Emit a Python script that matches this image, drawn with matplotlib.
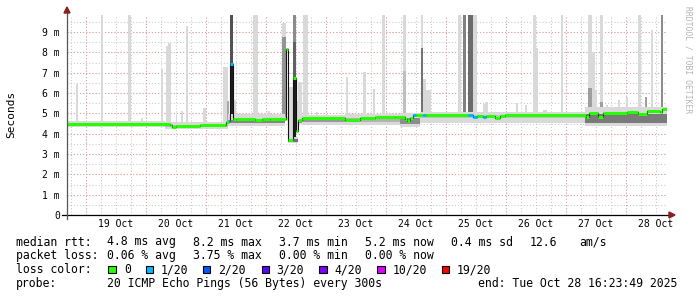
import numpy as np
import matplotlib
matplotlib.use('Agg')
import matplotlib.pyplot as plt
from matplotlib.patches import Rectangle, Polygon

# ---------------- data ----------------
# time axis: days since 19 Oct 2025 00:00, values in milliseconds
t_start = -0.3168          # Sat Oct 18 16:23:49
t_end = 9.6832             # Tue Oct 28 16:23:49
day_label_pos = [0.5, 1.5, 2.5, 3.5, 4.5, 5.5, 6.5, 7.5, 8.5, 9.5]
day_labels = ['19 Oct', '20 Oct', '21 Oct', '22 Oct', '23 Oct',
              '24 Oct', '25 Oct', '26 Oct', '27 Oct', '28 Oct']
y_ticks = [0, 1, 2, 3, 4, 5, 6, 7, 8, 9]
y_tick_labels = ['0', '1 m', '2 m', '3 m', '4 m', '5 m', '6 m', '7 m', '8 m', '9 m']

# median rtt (step start times, value in ms, lost pings of 20)
median_t = [-0.3168, 1.400, 1.433, 1.500, 1.900, 2.333, 2.375, 2.408, 2.442, 2.500,
            2.817, 2.933, 3.067, 3.325, 3.367, 3.442, 3.500, 3.533, 3.600, 4.317,
            4.567, 4.817, 5.150, 5.317, 5.350, 5.400, 5.450, 5.500, 5.617, 5.667,
            6.367, 6.450, 6.517, 6.617, 6.667, 6.817, 6.900, 6.983, 8.333, 8.383,
            8.533, 8.617, 9.017, 9.200, 9.350, 9.567, 9.600]
median_ms = [4.47, 4.42, 4.35, 4.40, 4.45, 4.56, 4.62, 7.42, 4.70, 4.72,
             4.69, 4.74, 4.72, 8.18, 3.70, 6.72, 4.12, 4.65, 4.76, 4.67,
             4.76, 4.80, 4.84, 4.72, 4.62, 4.75, 4.92, 4.90, 4.92, 4.92,
             4.92, 4.84, 4.88, 4.80, 4.88, 4.78, 4.85, 4.94, 4.80, 5.00,
             4.82, 5.02, 5.06, 4.97, 5.12, 5.05, 5.20]
median_loss = [0, 0, 0, 0, 0, 0, 1, 1, 0, 0,
               0, 0, 0, 0, 0, 0, 0, 0, 0, 0,
               0, 0, 0, 0, 0, 0, 1, 0, 1, 0,
               1, 1, 0, 1, 0, 0, 0, 0, 0, 0,
               0, 0, 0, 0, 0, 0, 0]

# smoke band around the median (step starts)
band_t = [-0.3168, 1.317, 2.367, 3.317, 3.367, 3.533, 3.600, 4.317, 5.233, 5.567, 8.317]
band_lo = [4.33, 4.22, 4.38, 4.62, 3.55, 4.50, 4.45, 4.45, 4.35, 4.55, 4.40]
band_hi = [4.62, 4.60, 4.95, 4.80, 3.85, 4.85, 4.92, 4.95, 5.00, 5.06, 5.30]
core_lo = [4.40, 4.32, 4.52, 4.70, 3.60, 4.55, 4.58, 4.58, 4.50, 4.78, 4.55]
core_hi = [4.47, 4.42, 4.68, 4.72, 3.72, 4.66, 4.72, 4.75, 4.75, 4.92, 4.98]
core_gray = ['0.80', '0.74', '0.52', '0.60', '0.45', '0.60', '0.60', '0.70', '0.55', '0.76', '0.48']

# smoke spikes: start, end (days), bottom, top (ms), gray level
spike_t0 = [-0.167, 0.245, 0.700, 0.917, 1.245, 1.333, 1.367, 1.500, 1.583, 1.667,
            1.958, 2.283, 2.450, 2.783, 3.033, 3.267, 3.367, 3.500, 3.533, 3.617,
            3.833, 4.333, 4.450, 4.617, 4.783, 4.928, 5.283, 5.578, 5.612, 5.667,
            6.200, 6.450, 6.612, 6.650, 7.167, 7.317, 7.450, 7.500, 7.617, 7.912,
            8.367, 8.433, 8.483, 8.567, 8.667, 8.767, 8.867, 9.000, 9.200, 9.417,
            9.583,
            2.350, 3.267, 3.445, 5.283, 6.278, 6.367, 8.367, 8.567, 9.317, 9.583, 5.578,
            2.408, 2.408, 3.445, 3.445]
spike_t1 = [-0.133, 0.278, 0.750, 0.950, 1.283, 1.367, 1.417, 1.517, 1.617, 1.700,
            2.000, 2.367, 2.500, 2.867, 3.067, 3.325, 3.442, 3.533, 3.608, 3.700,
            3.867, 4.367, 4.467, 4.667, 4.817, 4.983, 5.333, 5.612, 5.667, 5.745,
            6.250, 6.517, 6.650, 6.700, 7.200, 7.350, 7.500, 7.533, 7.683, 7.955,
            8.433, 8.483, 8.517, 8.617, 8.700, 8.800, 8.900, 9.033, 9.250, 9.450,
            9.617,
            2.383, 3.325, 3.500, 5.333, 6.333, 6.450, 8.433, 8.617, 9.350, 9.617, 5.612,
            2.442, 2.442, 3.500, 3.500]
spike_lo = [4.45, 4.45, 4.45, 4.45, 4.45, 4.40, 4.40, 4.40, 4.40, 4.40,
            4.45, 4.45, 4.70, 4.70, 4.70, 4.70, 3.70, 4.10, 4.65, 4.75,
            4.75, 4.67, 4.67, 4.76, 4.76, 4.80, 4.80, 4.90, 4.90, 4.90,
            4.90, 4.85, 4.80, 4.85, 4.90, 4.90, 4.90, 4.90, 4.90, 4.90,
            4.90, 4.90, 4.90, 4.80, 5.00, 5.00, 5.00, 5.00, 5.00, 5.10,
            5.10,
            4.55, 4.70, 3.70, 4.80, 4.90, 4.90, 4.90, 4.80, 5.00, 5.10, 4.90,
            4.60, 4.60, 3.70, 3.70]
spike_hi = [6.45, 10.0, 10.0, 4.75, 7.20, 8.30, 8.45, 4.90, 5.10, 9.30,
            5.28, 7.30, 5.65, 10.0, 5.10, 9.45, 6.30, 5.60, 6.55, 10.0,
            5.07, 6.80, 5.00, 7.05, 6.20, 10.0, 10.0, 10.0, 6.70, 6.15,
            10.0, 10.0, 5.46, 5.55, 5.50, 5.40, 10.0, 8.20, 5.16, 10.0,
            10.0, 8.00, 6.15, 10.0, 5.40, 5.10, 5.66, 5.80, 10.0, 9.10,
            10.0,
            5.60, 8.75, 10.0, 7.10, 10.0, 10.0, 6.25, 5.55, 5.80, 10.0, 8.20,
            10.0, 7.42, 8.50, 6.72]
spike_gray = ['0.85'] * 51 + ['0.66', '0.58', '0.55', '0.75', '0.50', '0.42',
                              '0.62', '0.62', '0.62', '0.55', '0.45',
                              '0.32', '0.12', '0.38', '0.12']

# legend
loss_labels = ['0', '1/20', '2/20', '3/20', '4/20', '10/20', '19/20']
loss_colors = ['#26ff00', '#00b8ff', '#0059ff', '#5e00ff', '#7e00ff', '#dd00ff', '#ff0000']
loss_levels = [0, 1, 2, 3, 4, 10, 19]

# ---------------- figure ----------------
W, H = 697, 297
fig = plt.figure(figsize=(W / 100, H / 100), dpi=100)
fig.patch.set_facecolor('white')

def fx(x):
    return x / W

def fy(y):
    return 1 - y / H

ax = fig.add_axes([67 / W, 82 / H, 600 / W, 200 / H])
ax.set_xlim(t_start, t_end)
ax.set_ylim(0, 9.84)
for s in ax.spines.values():
    s.set_visible(False)
ax.set_facecolor('white')

# grid
minor_x = np.arange(np.ceil(t_start * 4) / 4, t_end, 0.25)
major_x = np.arange(np.ceil(t_start), t_end, 1.0)
for x in minor_x:
    ax.axvline(x, color='#c8c8c8', lw=0.75, ls=(0, (1, 2)), zorder=0)
for y in np.arange(0.5, 9.84, 0.5):
    ax.axhline(y, color='#c8c8c8', lw=0.75, ls=(0, (1, 2)), zorder=0)
for x in major_x:
    ax.axvline(x, color='#e4a0a0', lw=0.75, ls=(0, (1, 2)), zorder=0.5)
for y in y_ticks[1:]:
    ax.axhline(y, color='#e4a0a0', lw=0.75, ls=(0, (1, 2)), zorder=0.5)

# smoke spikes
for t0, t1, lo, hi, g in zip(spike_t0, spike_t1, spike_lo, spike_hi, spike_gray):
    ax.bar(t0, hi - lo, bottom=lo, width=t1 - t0, align='edge', color=g,
           linewidth=0, zorder=1)

# smoke band
bt = list(band_t) + [t_end]
ax.fill_between(bt, list(band_lo) + [band_lo[-1]], list(band_hi) + [band_hi[-1]],
                step='post', color='#d9d9d9', linewidth=0, zorder=2)
for i in range(len(band_t)):
    ax.fill_between([bt[i], bt[i + 1]], [core_lo[i]] * 2, [core_hi[i]] * 2,
                    color=core_gray[i], linewidth=0, zorder=2.1)

# median line
mt = list(median_t) + [t_end]
ax.step(mt, list(median_ms) + [median_ms[-1]], where='post', color='#111111',
        lw=0.8, zorder=3)
col_of = dict(zip(loss_levels, loss_colors))
for i in range(len(median_t)):
    ax.hlines(median_ms[i], mt[i], mt[i + 1], colors=col_of[median_loss[i]],
              lw=2.2, zorder=4, capstyle='butt')

# ticks
mono = 'DejaVu Sans Mono'
ax.set_xticks(day_label_pos)
ax.set_xticklabels(day_labels, family=mono, fontsize=7)
ax.set_yticks(y_ticks)
ax.set_yticklabels(y_tick_labels, family=mono, fontsize=7)
ax.tick_params(axis='x', length=0, pad=2.6)
ax.tick_params(axis='y', length=0, pad=5.0)

# axes lines and arrows
ax.plot([-5 / 600, 605 / 600], [0, 0], transform=ax.transAxes, color='black',
        lw=0.9, clip_on=False, zorder=6)
ax.plot([0, 0], [-4 / 200, 203 / 200], transform=ax.transAxes, color='#555555',
        lw=0.9, clip_on=False, zorder=6)
arrow_c = '#8a1f1f'
fig.patches.append(Polygon([[fx(669), fy(212)], [fx(669), fy(218)], [fx(675), fy(215)]],
                           closed=True, transform=fig.transFigure, color=arrow_c))
fig.patches.append(Polygon([[fx(64), fy(13)], [fx(70), fy(13)], [fx(67), fy(7)]],
                           closed=True, transform=fig.transFigure, color=arrow_c))

# labels
fig.text(fx(11), fy(114), 'Seconds', rotation=90, family=mono, fontsize=8,
         ha='center', va='center')
fig.text(fx(688), fy(60), 'RRDTOOL / TOBI OETIKER', rotation=270, family=mono,
         fontsize=5.8, color='#b4b4b4', ha='center', va='center')

# legend text
rows = [
    (245.5, [(16, 'median rtt:'), (106.7, '4.8 ms avg'), (193.3, '8.2 ms max'),
             (279.3, '3.7 ms min'), (365, '5.2 ms now'), (451, '0.4 ms sd'),
             (530, '12.6'), (579.3, 'am/s')]),
    (259.3, [(16, 'packet loss:'), (106.7, '0.06 % avg'), (193.3, '3.75 % max'),
             (279.3, '0.00 % min'), (365, '0.00 % now')]),
    (273.2, [(16, 'loss color:')]),
    (287.2, [(16, 'probe:'), (106.7, '20 ICMP Echo Pings (56 Bytes) every 300s'),
             (478.3, 'end: Tue Oct 28 16:23:49 2025')]),
]
for yb, items in rows:
    for x, s in items:
        fig.text(fx(x), fy(yb), s, family=mono, fontsize=8.3, ha='left',
                 va='baseline', color='black')

box_x = [108.3, 145.7, 203, 261.7, 319.3, 377.3, 441.7]
text_x = [124, 160.7, 218.3, 276.7, 334.3, 392.3, 456.7]
for bx, tx, lab, c in zip(box_x, text_x, loss_labels, loss_colors):
    fig.patches.append(Rectangle((fx(bx), fy(273.2)), 7.2 / W, 7.2 / H,
                                 transform=fig.transFigure, facecolor=c,
                                 edgecolor='black', lw=0.8))
    fig.text(fx(tx), fy(273.2), lab, family=mono, fontsize=8.3, ha='left',
             va='baseline', color='black')

fig.savefig('out.png', dpi=100, facecolor='white')
